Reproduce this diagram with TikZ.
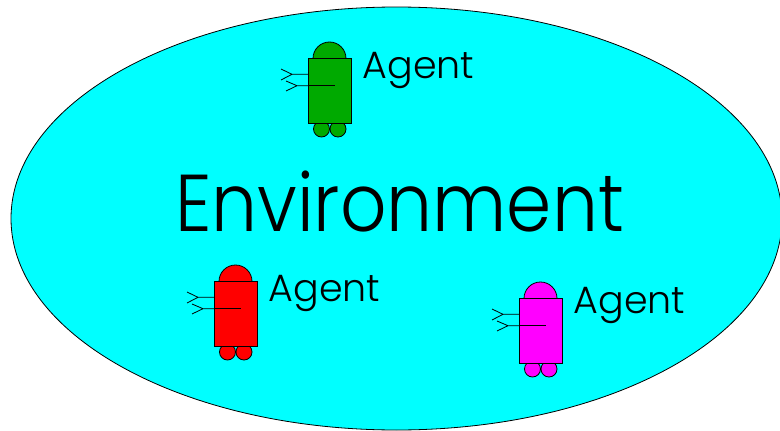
\documentclass[tikz,border=0pt]{standalone}
\usepackage{fontspec}
\setmainfont{Poppins Light}
\definecolor{envcyan}{RGB}{0,255,255}
\definecolor{agreen}{RGB}{0,170,0}
\definecolor{ared}{RGB}{255,0,0}
\definecolor{amag}{RGB}{255,0,255}
\tikzset{
  x=1pt,y=-1pt,
  part/.style={draw=black,line width=0.8pt},
  wire/.style={draw=black,line width=0.8pt},
  lbl/.style={inner sep=0pt,anchor=base west,font=\fontsize{38}{38}\selectfont},
  pics/robot/.style={code={
    \fill[#1,part] (5,58.5) arc[start angle=180,end angle=360,radius=16.5] -- cycle;
    \fill[#1,part] (13.5,129) circle[radius=8];
    \fill[#1,part] (30,129) circle[radius=8];
    \draw[wire] (0,74.3) -- (-16,74.3) (-27,69) -- (-16,74.3) -- (-27,80);
    \draw[wire] (27,85.7) -- (-11,85.7) (-22,81) -- (-11,85.7) -- (-22,91);
    \fill[#1,part] (0,58.5) rectangle (43.5,123.5);
    \draw[wire] (0,85.7) -- (27,85.7);
  }}
}
\begin{document}
\begin{tikzpicture}
\useasboundingbox (0,0) rectangle (780,431);
\clip (0,0) rectangle (780,431);
\fill[envcyan,draw=black,line width=0.8pt] (396.5,218.5) ellipse[x radius=385.5,y radius=211.5];
\node[inner sep=0pt,anchor=base,yscale=1.11,transform shape,font=\fontsize{72.6}{72.6}\selectfont] (env) at (399.5,231) {Environment};
\pic at (308,0) {robot=agreen};
\node[lbl] (a1) at (362.5,78) {Agent};
\pic at (214,223) {robot=ared};
\node[lbl] (a2) at (268.5,301) {Agent};
\pic at (519,240) {robot=amag};
\node[lbl] (a3) at (573.5,313) {Agent};
\end{tikzpicture}
\end{document}
